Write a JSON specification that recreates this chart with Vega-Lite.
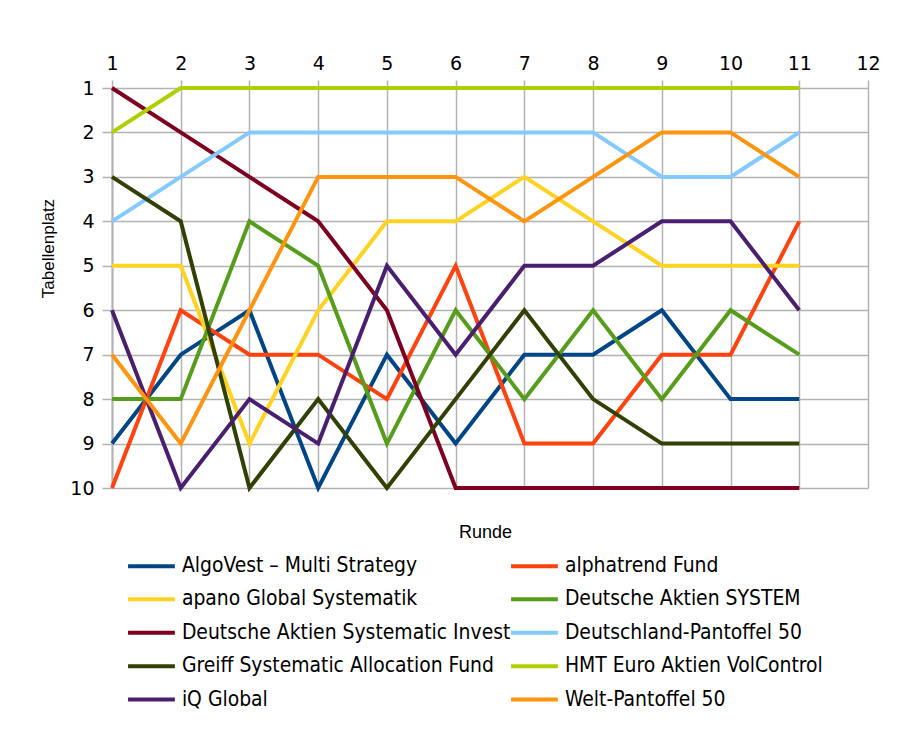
{
  "$schema": "https://vega.github.io/schema/vega-lite/v6.json",
  "autosize": {"type": "none"},
  "padding": {"left": 112, "top": 88, "right": 33, "bottom": 254},
  "width": 756,
  "height": 400,
  "background": "white",
  "config": {"view": {"stroke": null}},
  "data": {"values": [
    {"Fonds": "AlgoVest – Multi Strategy", "Runde": 1, "Platz": 9},
    {"Fonds": "AlgoVest – Multi Strategy", "Runde": 2, "Platz": 7},
    {"Fonds": "AlgoVest – Multi Strategy", "Runde": 3, "Platz": 6},
    {"Fonds": "AlgoVest – Multi Strategy", "Runde": 4, "Platz": 10},
    {"Fonds": "AlgoVest – Multi Strategy", "Runde": 5, "Platz": 7},
    {"Fonds": "AlgoVest – Multi Strategy", "Runde": 6, "Platz": 9},
    {"Fonds": "AlgoVest – Multi Strategy", "Runde": 7, "Platz": 7},
    {"Fonds": "AlgoVest – Multi Strategy", "Runde": 8, "Platz": 7},
    {"Fonds": "AlgoVest – Multi Strategy", "Runde": 9, "Platz": 6},
    {"Fonds": "AlgoVest – Multi Strategy", "Runde": 10, "Platz": 8},
    {"Fonds": "AlgoVest – Multi Strategy", "Runde": 11, "Platz": 8},
    {"Fonds": "alphatrend Fund", "Runde": 1, "Platz": 10},
    {"Fonds": "alphatrend Fund", "Runde": 2, "Platz": 6},
    {"Fonds": "alphatrend Fund", "Runde": 3, "Platz": 7},
    {"Fonds": "alphatrend Fund", "Runde": 4, "Platz": 7},
    {"Fonds": "alphatrend Fund", "Runde": 5, "Platz": 8},
    {"Fonds": "alphatrend Fund", "Runde": 6, "Platz": 5},
    {"Fonds": "alphatrend Fund", "Runde": 7, "Platz": 9},
    {"Fonds": "alphatrend Fund", "Runde": 8, "Platz": 9},
    {"Fonds": "alphatrend Fund", "Runde": 9, "Platz": 7},
    {"Fonds": "alphatrend Fund", "Runde": 10, "Platz": 7},
    {"Fonds": "alphatrend Fund", "Runde": 11, "Platz": 4},
    {"Fonds": "apano Global Systematik", "Runde": 1, "Platz": 5},
    {"Fonds": "apano Global Systematik", "Runde": 2, "Platz": 5},
    {"Fonds": "apano Global Systematik", "Runde": 3, "Platz": 9},
    {"Fonds": "apano Global Systematik", "Runde": 4, "Platz": 6},
    {"Fonds": "apano Global Systematik", "Runde": 5, "Platz": 4},
    {"Fonds": "apano Global Systematik", "Runde": 6, "Platz": 4},
    {"Fonds": "apano Global Systematik", "Runde": 7, "Platz": 3},
    {"Fonds": "apano Global Systematik", "Runde": 8, "Platz": 4},
    {"Fonds": "apano Global Systematik", "Runde": 9, "Platz": 5},
    {"Fonds": "apano Global Systematik", "Runde": 10, "Platz": 5},
    {"Fonds": "apano Global Systematik", "Runde": 11, "Platz": 5},
    {"Fonds": "Deutsche Aktien SYSTEM", "Runde": 1, "Platz": 8},
    {"Fonds": "Deutsche Aktien SYSTEM", "Runde": 2, "Platz": 8},
    {"Fonds": "Deutsche Aktien SYSTEM", "Runde": 3, "Platz": 4},
    {"Fonds": "Deutsche Aktien SYSTEM", "Runde": 4, "Platz": 5},
    {"Fonds": "Deutsche Aktien SYSTEM", "Runde": 5, "Platz": 9},
    {"Fonds": "Deutsche Aktien SYSTEM", "Runde": 6, "Platz": 6},
    {"Fonds": "Deutsche Aktien SYSTEM", "Runde": 7, "Platz": 8},
    {"Fonds": "Deutsche Aktien SYSTEM", "Runde": 8, "Platz": 6},
    {"Fonds": "Deutsche Aktien SYSTEM", "Runde": 9, "Platz": 8},
    {"Fonds": "Deutsche Aktien SYSTEM", "Runde": 10, "Platz": 6},
    {"Fonds": "Deutsche Aktien SYSTEM", "Runde": 11, "Platz": 7},
    {"Fonds": "Deutsche Aktien Systematic Invest", "Runde": 1, "Platz": 1},
    {"Fonds": "Deutsche Aktien Systematic Invest", "Runde": 2, "Platz": 2},
    {"Fonds": "Deutsche Aktien Systematic Invest", "Runde": 3, "Platz": 3},
    {"Fonds": "Deutsche Aktien Systematic Invest", "Runde": 4, "Platz": 4},
    {"Fonds": "Deutsche Aktien Systematic Invest", "Runde": 5, "Platz": 6},
    {"Fonds": "Deutsche Aktien Systematic Invest", "Runde": 6, "Platz": 10},
    {"Fonds": "Deutsche Aktien Systematic Invest", "Runde": 7, "Platz": 10},
    {"Fonds": "Deutsche Aktien Systematic Invest", "Runde": 8, "Platz": 10},
    {"Fonds": "Deutsche Aktien Systematic Invest", "Runde": 9, "Platz": 10},
    {"Fonds": "Deutsche Aktien Systematic Invest", "Runde": 10, "Platz": 10},
    {"Fonds": "Deutsche Aktien Systematic Invest", "Runde": 11, "Platz": 10},
    {"Fonds": "Deutschland-Pantoffel 50", "Runde": 1, "Platz": 4},
    {"Fonds": "Deutschland-Pantoffel 50", "Runde": 2, "Platz": 3},
    {"Fonds": "Deutschland-Pantoffel 50", "Runde": 3, "Platz": 2},
    {"Fonds": "Deutschland-Pantoffel 50", "Runde": 4, "Platz": 2},
    {"Fonds": "Deutschland-Pantoffel 50", "Runde": 5, "Platz": 2},
    {"Fonds": "Deutschland-Pantoffel 50", "Runde": 6, "Platz": 2},
    {"Fonds": "Deutschland-Pantoffel 50", "Runde": 7, "Platz": 2},
    {"Fonds": "Deutschland-Pantoffel 50", "Runde": 8, "Platz": 2},
    {"Fonds": "Deutschland-Pantoffel 50", "Runde": 9, "Platz": 3},
    {"Fonds": "Deutschland-Pantoffel 50", "Runde": 10, "Platz": 3},
    {"Fonds": "Deutschland-Pantoffel 50", "Runde": 11, "Platz": 2},
    {"Fonds": "Greiff Systematic Allocation Fund", "Runde": 1, "Platz": 3},
    {"Fonds": "Greiff Systematic Allocation Fund", "Runde": 2, "Platz": 4},
    {"Fonds": "Greiff Systematic Allocation Fund", "Runde": 3, "Platz": 10},
    {"Fonds": "Greiff Systematic Allocation Fund", "Runde": 4, "Platz": 8},
    {"Fonds": "Greiff Systematic Allocation Fund", "Runde": 5, "Platz": 10},
    {"Fonds": "Greiff Systematic Allocation Fund", "Runde": 6, "Platz": 8},
    {"Fonds": "Greiff Systematic Allocation Fund", "Runde": 7, "Platz": 6},
    {"Fonds": "Greiff Systematic Allocation Fund", "Runde": 8, "Platz": 8},
    {"Fonds": "Greiff Systematic Allocation Fund", "Runde": 9, "Platz": 9},
    {"Fonds": "Greiff Systematic Allocation Fund", "Runde": 10, "Platz": 9},
    {"Fonds": "Greiff Systematic Allocation Fund", "Runde": 11, "Platz": 9},
    {"Fonds": "HMT Euro Aktien VolControl", "Runde": 1, "Platz": 2},
    {"Fonds": "HMT Euro Aktien VolControl", "Runde": 2, "Platz": 1},
    {"Fonds": "HMT Euro Aktien VolControl", "Runde": 3, "Platz": 1},
    {"Fonds": "HMT Euro Aktien VolControl", "Runde": 4, "Platz": 1},
    {"Fonds": "HMT Euro Aktien VolControl", "Runde": 5, "Platz": 1},
    {"Fonds": "HMT Euro Aktien VolControl", "Runde": 6, "Platz": 1},
    {"Fonds": "HMT Euro Aktien VolControl", "Runde": 7, "Platz": 1},
    {"Fonds": "HMT Euro Aktien VolControl", "Runde": 8, "Platz": 1},
    {"Fonds": "HMT Euro Aktien VolControl", "Runde": 9, "Platz": 1},
    {"Fonds": "HMT Euro Aktien VolControl", "Runde": 10, "Platz": 1},
    {"Fonds": "HMT Euro Aktien VolControl", "Runde": 11, "Platz": 1},
    {"Fonds": "iQ Global", "Runde": 1, "Platz": 6},
    {"Fonds": "iQ Global", "Runde": 2, "Platz": 10},
    {"Fonds": "iQ Global", "Runde": 3, "Platz": 8},
    {"Fonds": "iQ Global", "Runde": 4, "Platz": 9},
    {"Fonds": "iQ Global", "Runde": 5, "Platz": 5},
    {"Fonds": "iQ Global", "Runde": 6, "Platz": 7},
    {"Fonds": "iQ Global", "Runde": 7, "Platz": 5},
    {"Fonds": "iQ Global", "Runde": 8, "Platz": 5},
    {"Fonds": "iQ Global", "Runde": 9, "Platz": 4},
    {"Fonds": "iQ Global", "Runde": 10, "Platz": 4},
    {"Fonds": "iQ Global", "Runde": 11, "Platz": 6},
    {"Fonds": "Welt-Pantoffel 50", "Runde": 1, "Platz": 7},
    {"Fonds": "Welt-Pantoffel 50", "Runde": 2, "Platz": 9},
    {"Fonds": "Welt-Pantoffel 50", "Runde": 3, "Platz": 6},
    {"Fonds": "Welt-Pantoffel 50", "Runde": 4, "Platz": 3},
    {"Fonds": "Welt-Pantoffel 50", "Runde": 5, "Platz": 3},
    {"Fonds": "Welt-Pantoffel 50", "Runde": 6, "Platz": 3},
    {"Fonds": "Welt-Pantoffel 50", "Runde": 7, "Platz": 4},
    {"Fonds": "Welt-Pantoffel 50", "Runde": 8, "Platz": 3},
    {"Fonds": "Welt-Pantoffel 50", "Runde": 9, "Platz": 2},
    {"Fonds": "Welt-Pantoffel 50", "Runde": 10, "Platz": 2},
    {"Fonds": "Welt-Pantoffel 50", "Runde": 11, "Platz": 3}
  ]},
  "mark": {"type": "line", "strokeWidth": 4},
  "encoding": {
    "x": {
      "field": "Runde", "type": "quantitative",
      "scale": {"domain": [1, 12], "nice": false, "zero": false},
      "axis": {
        "orient": "top", "values": [1,2,3,4,5,6,7,8,9,10,11,12], "format": "d",
        "labelFont": "DejaVu Sans", "labelFontSize": 19, "labelColor": "black",
        "labelBaseline": "alphabetic", "labelPadding": 11, "labelFlush": false, "labelOverlap": false,
        "tickSize": 8, "tickColor": "#b3b3b3", "tickWidth": 1.5,
        "grid": true, "gridColor": "#b3b3b3", "gridWidth": 1.5, "gridOpacity": 1,
        "domain": false,
        "title": "Runde", "titleFont": "Liberation Sans", "titleFontSize": 18, "titleFontWeight": "normal",
        "titleColor": "black", "titleX": 373, "titleY": 444, "titleBaseline": "middle", "titleAlign": "center"
      }
    },
    "y": {
      "field": "Platz", "type": "quantitative",
      "scale": {"domain": [1, 10], "reverse": true, "nice": false, "zero": false},
      "axis": {
        "values": [1,2,3,4,5,6,7,8,9,10], "format": "d",
        "labelFont": "DejaVu Sans", "labelFontSize": 19, "labelColor": "black",
        "labelPadding": 8, "labelFlush": false, "labelOverlap": false,
        "tickSize": 10, "tickColor": "#b3b3b3", "tickWidth": 1.5,
        "grid": true, "gridColor": "#b3b3b3", "gridWidth": 1.5, "gridOpacity": 1,
        "domainColor": "#b3b3b3", "domainWidth": 2,
        "title": "Tabellenplatz", "titleFont": "Liberation Sans", "titleFontSize": 17, "titleFontWeight": "normal",
        "titleColor": "black", "titleX": -64, "titleY": 160, "titleAngle": -90, "titleAlign": "center", "titleBaseline": "middle"
      }
    },
    "color": {
      "field": "Fonds", "type": "nominal",
      "scale": {
        "domain": ["AlgoVest – Multi Strategy", "apano Global Systematik", "Deutsche Aktien Systematic Invest", "Greiff Systematic Allocation Fund", "iQ Global", "alphatrend Fund", "Deutsche Aktien SYSTEM", "Deutschland-Pantoffel 50", "HMT Euro Aktien VolControl", "Welt-Pantoffel 50"],
        "range": ["#004586", "#ffd320", "#7e0021", "#314004", "#4b1f6f", "#ff420e", "#579d1c", "#83caff", "#aecf00", "#ff950e"]
      },
      "legend": {
        "orient": "none", "legendX": 29, "legendY": 467.5, "columns": 2, "title": null, "padding": 0,
        "symbolType": "M-3.6,0H3.6", "symbolSize": 169, "symbolStrokeWidth": 4,
        "labelFont": "DejaVu Sans Condensed", "labelFontSize": 20.9, "labelColor": "black",
        "labelOffset": 20, "labelLimit": 600, "rowPadding": 11.4, "columnPadding": -8
      }
    }
  }
}
